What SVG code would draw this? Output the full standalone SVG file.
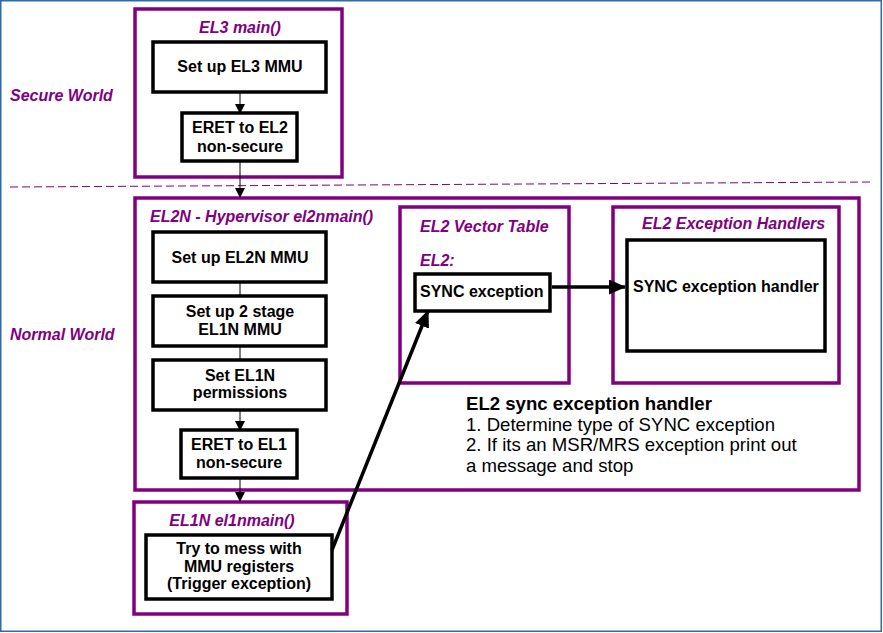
<svg xmlns="http://www.w3.org/2000/svg" width="883" height="633" viewBox="0 0 883 633">
<defs>
<marker id="ah" markerWidth="10" markerHeight="10" refX="9" refY="5" orient="auto" markerUnits="userSpaceOnUse"><path d="M0,0 L10,5 L0,10 z" fill="#000"/></marker>
<marker id="ahb" markerWidth="17" markerHeight="15" refX="16" refY="7.5" orient="auto" markerUnits="userSpaceOnUse"><path d="M0,0 L17,7.5 L0,15 z" fill="#000"/></marker>
<style>
.frame{fill:#fff;stroke:#2f6aad;stroke-width:1.5}
.grp{fill:#fff;stroke:#800080;stroke-width:3.5}
.box{fill:#fff;stroke:#000;stroke-width:3.5}
.t{font-family:"Liberation Sans",Arial,sans-serif;font-weight:bold;font-size:16px;fill:#000}
.c{text-anchor:middle}
.p{font-family:"Liberation Sans",Arial,sans-serif;font-weight:bold;font-style:italic;font-size:16px;fill:#800080}
.n{font-family:"Liberation Sans",Arial,sans-serif;font-size:18.6px;fill:#000}
.thin{stroke:#000;stroke-width:1;fill:none}
.thick{stroke:#000;stroke-width:3.5;fill:none}
</style>
</defs>
<rect class="frame" x="0.75" y="0.75" width="880.5" height="630.5"/>
<line x1="10" y1="187" x2="873" y2="182" stroke="#800080" stroke-width="1" stroke-dasharray="8,4"/>
<text class="p" x="10" y="101">Secure World</text>
<text class="p" x="10" y="340">Normal World</text>

<g id="el3">
<rect class="grp" x="135" y="9" width="207" height="168"/>
<text class="p c" x="240" y="33">EL3 main()</text>
</g>
<g id="setup-el3-mmu">
<rect class="box" x="153" y="42" width="173" height="50"/>
<text class="t c" x="240" y="72">Set up EL3 MMU</text>
</g>
<g id="eret-el2">
<rect class="box" x="182" y="113" width="115" height="48"/>
<text class="t c" x="240" y="133">ERET to EL2</text>
<text class="t c" x="240" y="152">non-secure</text>
</g>

<g id="el2n">
<rect class="grp" x="135" y="198" width="724" height="292"/>
<text class="p" x="150" y="222">EL2N - Hypervisor el2nmain()</text>
</g>
<g id="setup-el2n-mmu">
<rect class="box" x="153" y="232" width="173" height="50"/>
<text class="t c" x="240" y="263">Set up EL2N MMU</text>
</g>
<g id="setup-2stage">
<rect class="box" x="153" y="296" width="173" height="50"/>
<text class="t c" x="240" y="317">Set up 2 stage</text>
<text class="t c" x="240" y="335">EL1N MMU</text>
</g>
<g id="set-perm">
<rect class="box" x="153" y="360" width="173" height="50"/>
<text class="t c" x="240" y="381">Set EL1N</text>
<text class="t c" x="240" y="398">permissions</text>
</g>
<g id="eret-el1">
<rect class="box" x="181" y="430" width="116" height="48"/>
<text class="t c" x="239" y="450">ERET to EL1</text>
<text class="t c" x="239" y="468">non-secure</text>
</g>

<g id="vector-table">
<rect class="grp" x="400" y="207" width="169" height="176"/>
<text class="p" x="420" y="232">EL2 Vector Table</text>
<text class="p" x="420" y="266">EL2:</text>
</g>
<g id="sync-exception">
<rect class="box" x="415" y="274" width="135" height="37"/>
<text class="t" x="420" y="297">SYNC exception</text>
</g>

<g id="exception-handlers">
<rect class="grp" x="613" y="207" width="226" height="176"/>
<text class="p" x="642" y="229">EL2 Exception Handlers</text>
</g>
<g id="sync-handler">
<rect class="box" x="627" y="240" width="198" height="111"/>
<text class="t" x="633" y="292">SYNC exception handler</text>
</g>

<g id="handler-note">
<text class="n" x="466" y="410" style="font-weight:bold">EL2 sync exception handler</text>
<text class="n" x="466" y="431">1. Determine type of SYNC exception</text>
<text class="n" x="466" y="451">2. If its an MSR/MRS exception print out</text>
<text class="n" x="466" y="472">a message and stop</text>
</g>

<g id="el1n">
<rect class="grp" x="134" y="502" width="213" height="112"/>
<text class="p c" x="232" y="526">EL1N el1nmain()</text>
</g>
<g id="try-mess">
<rect class="box" x="146" y="535" width="186" height="64"/>
<text class="t c" x="239" y="554">Try to mess with</text>
<text class="t c" x="239" y="572">MMU registers</text>
<text class="t c" x="239" y="589">(Trigger exception)</text>
</g>

<g id="connectors">
<line class="thin" x1="240" y1="92" x2="240" y2="113" marker-end="url(#ah)"/>
<line class="thin" x1="240" y1="161" x2="240" y2="197" marker-end="url(#ah)"/>
<line class="thin" x1="240" y1="282" x2="240" y2="296"/>
<line class="thin" x1="240" y1="346" x2="240" y2="360"/>
<line class="thin" x1="240" y1="410" x2="240" y2="430" marker-end="url(#ah)"/>
<line class="thin" x1="240" y1="478" x2="240" y2="501" marker-end="url(#ah)"/>
<line class="thick" x1="552" y1="287" x2="625" y2="287" marker-end="url(#ahb)"/>
<line class="thick" x1="332" y1="550" x2="428" y2="311" marker-end="url(#ahb)"/>
</g>
</svg>
